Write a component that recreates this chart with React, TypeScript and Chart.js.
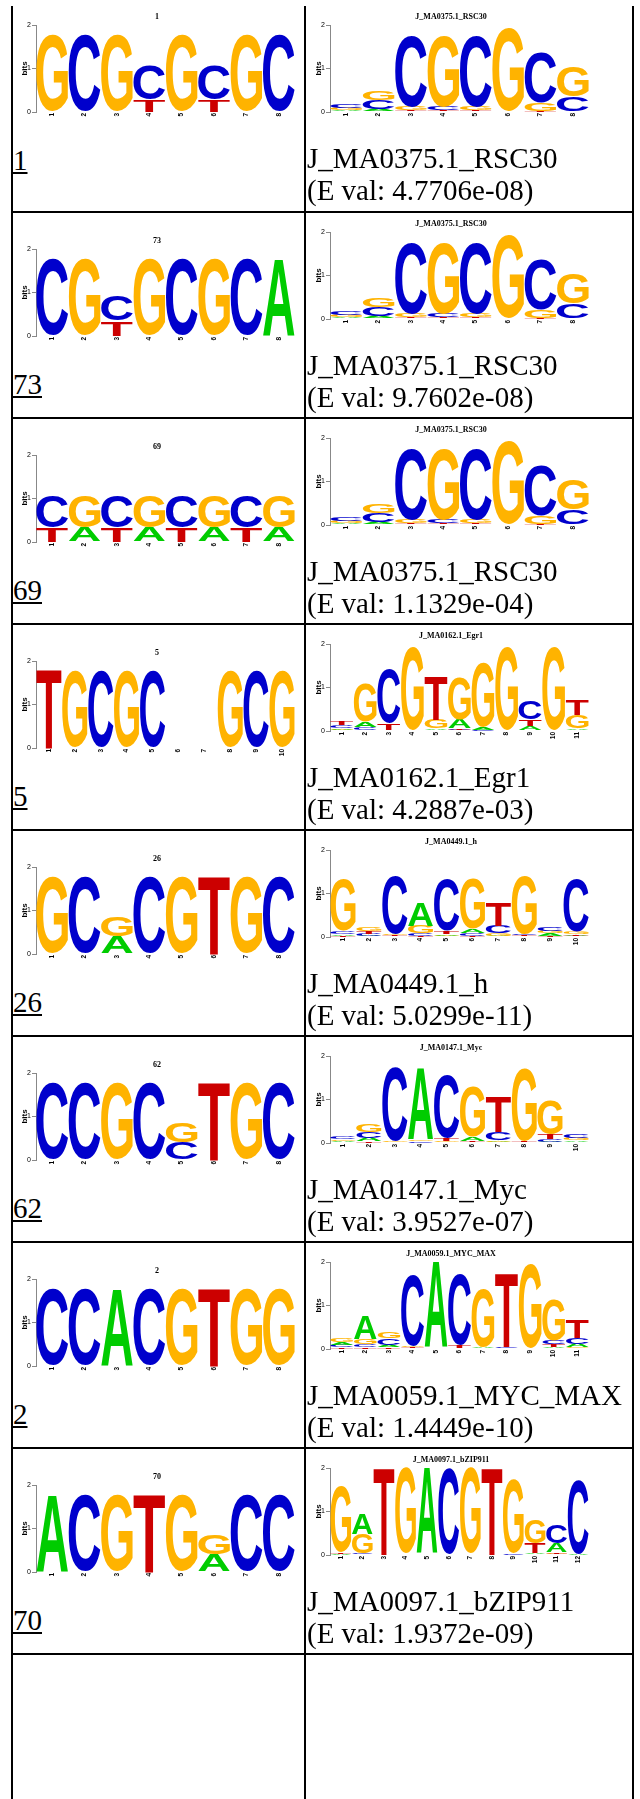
import React, { useEffect, useRef } from "react";
import { Chart, registerables } from "chart.js";
Chart.register(...registerables);

const BASES = ["A", "C", "G", "T"];
const BASE_COLORS: Record<string, string> = { A: "#00CC00", C: "#0000CC", G: "#FFB300", T: "#CC0000" };

// ---- Query motifs (bits per base per position) ----
const Q1 = {
  A: [0, 0, 0, 0, 0, 0, 0, 0],
  C: [0, 1.77, 0, 0.77, 0, 0.77, 0, 1.77],
  G: [1.77, 0, 1.77, 0, 1.77, 0, 1.77, 0],
  T: [0, 0, 0, 0.28, 0, 0.28, 0, 0],
};
const Q73 = {
  A: [0, 0, 0, 0, 0, 0, 0, 1.77],
  C: [1.77, 0, 0.58, 0, 1.77, 0, 1.77, 0],
  G: [0, 1.77, 0, 1.77, 0, 1.77, 0, 0],
  T: [0, 0, 0.35, 0, 0, 0, 0, 0],
};
const Q69 = {
  A: [0, 0.33, 0, 0.33, 0, 0.33, 0, 0.33],
  C: [0.72, 0, 0.72, 0, 0.72, 0, 0.72, 0],
  G: [0, 0.72, 0, 0.72, 0, 0.72, 0, 0.72],
  T: [0.33, 0, 0.33, 0, 0.33, 0, 0.33, 0],
};
const Q5 = {
  A: [0, 0, 0, 0, 0, 0, 0, 0, 0, 0],
  C: [0, 0, 1.75, 0, 1.75, 0, 0, 0, 1.75, 0],
  G: [0, 1.75, 0, 1.75, 0, 0, 0, 1.75, 0, 1.75],
  T: [1.81, 0.02, 0.02, 0.02, 0.02, 0, 0, 0.02, 0.02, 0.02],
};
const Q26 = {
  A: [0, 0, 0.4, 0, 0, 0, 0, 0],
  C: [0, 1.76, 0, 1.76, 0, 0, 0, 1.76],
  G: [1.76, 0, 0.45, 0, 1.76, 0, 1.76, 0],
  T: [0, 0, 0, 0, 0, 1.78, 0, 0],
};
const Q62 = {
  A: [0, 0, 0, 0, 0, 0, 0, 0],
  C: [1.76, 1.76, 0, 1.76, 0.4, 0, 0, 1.76],
  G: [0, 0, 1.76, 0, 0.46, 0, 1.76, 0],
  T: [0, 0, 0, 0, 0, 1.79, 0, 0],
};
const Q2 = {
  A: [0, 0, 1.76, 0, 0, 0, 0, 0],
  C: [1.76, 1.76, 0, 1.76, 0, 0, 0, 0],
  G: [0, 0, 0, 0, 1.76, 0, 1.76, 1.76],
  T: [0, 0, 0, 0, 0, 1.79, 0, 0],
};
const Q70 = {
  A: [1.75, 0, 0, 0, 0, 0.4, 0, 0],
  C: [0, 1.76, 0, 0, 0, 0, 1.76, 1.76],
  G: [0, 0, 1.76, 0, 1.76, 0.45, 0, 0],
  T: [0, 0, 0, 1.78, 0, 0, 0, 0],
};

// ---- Target motifs ----
const RSC30 = {
  A: [0.03, 0.05, 0.02, 0.02, 0.02, 0.01, 0.01, 0.01],
  C: [0.09, 0.2, 1.63, 0.08, 1.63, 0.01, 1.14, 0.33],
  G: [0.05, 0.22, 0.08, 1.63, 0.08, 1.9, 0.18, 0.69],
  T: [0.02, 0.02, 0.02, 0.02, 0.02, 0.01, 0.02, 0.01],
};
const EGR1 = {
  A: [0.04, 0.12, 0.01, 0.01, 0.04, 0.2, 0.06, 0.01, 0.1, 0.01, 0.04],
  C: [0.06, 0.07, 1.24, 0.01, 0.02, 0.03, 0.02, 0.01, 0.42, 0.01, 0.02],
  G: [0.03, 0.88, 0.01, 1.91, 0.2, 0.96, 1.48, 1.91, 0.02, 1.91, 0.3],
  T: [0.09, 0.02, 0.16, 0.01, 1.0, 0.03, 0.01, 0.01, 0.14, 0.01, 0.36],
};
const HMOTIF = {
  A: [0.04, 0.03, 0.02, 0.52, 0.04, 0.1, 0.03, 0.02, 0.05, 0.03],
  C: [0.07, 0.05, 1.34, 0.05, 1.18, 0.05, 0.18, 0.04, 0.1, 1.2],
  G: [1.18, 0.09, 0.04, 0.18, 0.03, 1.14, 0.05, 1.34, 0.05, 0.06],
  T: [0.03, 0.06, 0.02, 0.03, 0.07, 0.03, 0.54, 0.02, 0.03, 0.03],
};
const MYC = {
  A: [0.03, 0.08, 0.01, 1.62, 0.02, 0.1, 0.03, 0.01, 0.03, 0.04],
  C: [0.07, 0.14, 1.69, 0.03, 1.46, 0.02, 0.19, 0.01, 0.06, 0.09],
  G: [0.04, 0.17, 0.02, 0.03, 0.03, 1.16, 0.04, 1.66, 0.79, 0.05],
  T: [0.02, 0.04, 0.01, 0.01, 0.06, 0.02, 0.81, 0.03, 0.11, 0.02],
};
const MYCMAX = {
  A: [0.07, 0.52, 0.06, 0.02, 1.94, 0.01, 0.04, 0.01, 0.01, 0.05, 0.08],
  C: [0.05, 0.06, 0.15, 1.64, 0.01, 1.62, 0.01, 0.03, 0.01, 0.08, 0.14],
  G: [0.1, 0.11, 0.16, 0.03, 0.01, 0.01, 1.32, 0.01, 1.94, 0.95, 0.04],
  T: [0.04, 0.05, 0.04, 0.02, 0.01, 0.07, 0.01, 1.68, 0.01, 0.07, 0.41],
};
const BZIP = {
  A: [0.02, 0.46, 0, 0.01, 1.97, 0.01, 0.01, 0, 0.01, 0.03, 0.2, 0.02],
  C: [0.01, 0.03, 0, 0.01, 0.01, 1.97, 0.01, 0, 0.03, 0.02, 0.41, 1.7],
  G: [1.5, 0.44, 0, 1.96, 0.01, 0.01, 1.96, 0, 1.69, 0.53, 0.03, 0],
  T: [0.04, 0.02, 1.99, 0.01, 0.01, 0, 0.01, 1.99, 0, 0.22, 0.04, 0.01],
};

const QUERY_IDS = ["1", "73", "69", "5", "26", "62", "2", "70"];
const QUERY_MOTIFS = [Q1, Q73, Q69, Q5, Q26, Q62, Q2, Q70];
const TARGET_NAMES = [
  "J_MA0375.1_RSC30",
  "J_MA0375.1_RSC30",
  "J_MA0375.1_RSC30",
  "J_MA0162.1_Egr1",
  "J_MA0449.1_h",
  "J_MA0147.1_Myc",
  "J_MA0059.1_MYC_MAX",
  "J_MA0097.1_bZIP911",
];
const TARGET_MOTIFS = [RSC30, RSC30, RSC30, EGR1, HMOTIF, MYC, MYCMAX, BZIP];
const E_VALUES = ["4.7706e-08", "9.7602e-08", "1.1329e-04", "4.2887e-03", "5.0299e-11", "3.9527e-07", "1.4449e-10", "1.9372e-09"];

const GLYPH_FONT = 'bold 200px "Liberation Sans"';

const letterPlugin = {
  id: "logoLetters",
  afterDatasetsDraw(chart: any) {
    const ctx = chart.ctx as CanvasRenderingContext2D;
    ctx.save();
    ctx.font = GLYPH_FONT;
    ctx.textAlign = "left";
    ctx.textBaseline = "alphabetic";
    chart.data.datasets.forEach((ds: any, di: number) => {
      const meta = chart.getDatasetMeta(di);
      meta.data.forEach((el: any, i: number) => {
        const ch = ds.letters[i];
        const { x, y, base, width } = el.getProps(["x", "y", "base", "width"], true);
        const h = base - y;
        if (!(h > 0.3)) return;
        const m = ctx.measureText(ch);
        const gl = m.actualBoundingBoxLeft;
        const gr = m.actualBoundingBoxRight;
        const ga = m.actualBoundingBoxAscent;
        const gd = m.actualBoundingBoxDescent;
        const w = width - 0.8;
        ctx.save();
        ctx.translate(x - w / 2, base);
        ctx.scale(w / (gl + gr), h / (ga + gd));
        ctx.fillStyle = BASE_COLORS[ch];
        ctx.fillText(ch, gl, -gd);
        ctx.restore();
      });
    });
    ctx.restore();
  },
};

const titlePlugin = {
  id: "logoTitle",
  afterDraw(chart: any, _args: any, opts: any) {
    const ctx = chart.ctx as CanvasRenderingContext2D;
    ctx.save();
    ctx.font = 'bold 8px "Liberation Serif"';
    ctx.fillStyle = "#000";
    ctx.textAlign = "center";
    ctx.textBaseline = "middle";
    ctx.fillText(opts.text, chart.width / 2, chart.chartArea.top - 8);
    ctx.restore();
  },
};

const CW = 314;
const CH = 130;

function Logo({ motif, title, left, top }: { motif: any; title: string; left: number; top: number }) {
  const ref = useRef<HTMLCanvasElement>(null);
  useEffect(() => {
    const n = motif.A.length;
    const labels = Array.from({ length: n }, (_, i) => String(i + 1));
    const layers: number[][] = [[], [], [], []];
    const letters: string[][] = [[], [], [], []];
    for (let i = 0; i < n; i++) {
      const col = BASES.map((b) => ({ b, h: motif[b][i] as number })).sort((p, q) => p.h - q.h);
      col.forEach((c, j) => {
        layers[j].push(c.h);
        letters[j].push(c.b);
      });
    }
    const chart = new Chart(ref.current as HTMLCanvasElement, {
      type: "bar",
      data: {
        labels,
        datasets: layers.map((d, j) => ({
          data: d,
          letters: letters[j],
          backgroundColor: "rgba(0,0,0,0)",
          borderWidth: 0,
          barPercentage: 1,
          categoryPercentage: 1,
        })) as any,
      },
      options: {
        animation: false,
        responsive: false,
        maintainAspectRatio: false,
        events: [],
        layout: { padding: { left: 0, right: 19, top: 20, bottom: 3 } },
        plugins: {
          legend: { display: false },
          tooltip: { enabled: false },
          logoTitle: { text: title },
        } as any,
        scales: {
          x: {
            stacked: true,
            grid: { display: false, drawTicks: false },
            border: { display: false },
            ticks: {
              autoSkip: false,
              minRotation: 90,
              maxRotation: 90,
              padding: 1,
              color: "#000",
              font: { family: "Liberation Sans", size: 6.5, weight: "bold" },
            },
            afterFit: (s: any) => {
              s.height = 20;
            },
          },
          y: {
            stacked: true,
            min: 0,
            max: 2,
            ticks: { stepSize: 1, padding: 1, color: "#000", font: { family: "Liberation Sans", size: 7 } },
            grid: { drawOnChartArea: false, drawTicks: true, tickLength: 4, color: "#888" },
            border: { display: true, color: "#888" },
            title: {
              display: true,
              text: "bits",
              color: "#000",
              font: { family: "Liberation Sans", size: 8, weight: "bold" },
              padding: { top: 20, bottom: 0 },
            },
            afterFit: (s: any) => {
              s.width = 36;
            },
          },
        },
      } as any,
      plugins: [letterPlugin, titlePlugin],
    });
    return () => chart.destroy();
  }, [motif, title]);
  return (
    <canvas
      ref={ref}
      width={CW}
      height={CH}
      style={{ position: "absolute", left, top, width: CW, height: CH }}
    />
  );
}

const textStyle: React.CSSProperties = {
  position: "absolute",
  fontFamily: '"Liberation Serif", serif',
  fontSize: 29,
  lineHeight: "32px",
  whiteSpace: "nowrap",
  color: "#000",
};

export default function App() {
  const lines: React.ReactNode[] = [];
  // vertical borders
  [11, 304, 632].forEach((x, i) =>
    lines.push(
      <div key={"v" + i} style={{ position: "absolute", left: x, top: 6, width: 2, height: 1799 - 6, background: "#000" }} />
    )
  );
  for (let k = 0; k < 8; k++) {
    lines.push(
      <div key={"h" + k} style={{ position: "absolute", left: 11, top: 211 + 206 * k, width: 623, height: 2, background: "#000" }} />
    );
  }

  const cells: React.ReactNode[] = [];
  for (let r = 0; r < 8; r++) {
    const leftY = r === 0 ? 25 : 43 + 206 * r;
    const rightY = r === 0 ? 25 : 26 + 206 * r;
    cells.push(<Logo key={"ql" + r} motif={QUERY_MOTIFS[r]} title={QUERY_IDS[r]} left={0} top={leftY - 20} />);
    cells.push(<Logo key={"tl" + r} motif={TARGET_MOTIFS[r]} title={TARGET_NAMES[r]} left={294} top={rightY - 20} />);
    cells.push(
      <div key={"qt" + r} style={{ ...textStyle, left: 13, top: leftY + 145 - 26 }}>
        <a href="#" style={{ color: "#000", textDecoration: "underline" }}>
          {QUERY_IDS[r]}
        </a>
      </div>
    );
    cells.push(
      <div key={"tt" + r} style={{ ...textStyle, left: 307, top: rightY + 143 - 26 }}>
        {TARGET_NAMES[r]}
        <br />
        (E val: {E_VALUES[r]})
      </div>
    );
  }

  return (
    <div style={{ position: "absolute", left: 0, top: 0, width: 640, height: 1799, overflow: "hidden", background: "#fff" }}>
      {lines}
      {cells}
    </div>
  );
}
